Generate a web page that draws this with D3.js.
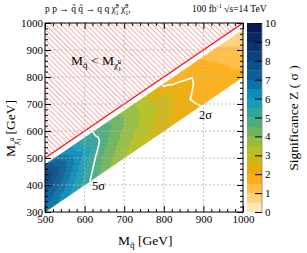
<!DOCTYPE html>
<html>
<head>
<meta charset="utf-8">
<script src="https://cdn.jsdelivr.net/npm/d3@7"></script>
<style>
body { margin: 0; background: #fff; }
text { font-family: "Liberation Serif", "DejaVu Serif", serif; fill: #000; }
</style>
</head>
<body>
<svg id="chart" width="307" height="253"></svg>
<script>
// squark mass grid (columns) and mass splitting M_sq - M_chi (rows)
var mqValues = [500, 550, 600, 650, 700, 750, 800, 850, 900, 950, 1000];
var dmValues = [25, 50, 75, 100, 125, 150, 175, 200];
// significance Z, one row per dm value
var zValues = [
  [7.0, 6.3, 5.3, 4.6, 3.8, 3.2, 1.9, 1.8, 1.4, 0.9, 0.4],
  [8.2, 6.8, 5.3, 4.8, 4.0, 3.3, 2.15, 1.8, 1.6, 1.1, 0.7],
  [8.6, 7.2, 5.9, 4.7, 4.0, 3.4, 2.7, 2.15, 1.8, 1.3, 0.9],
  [8.3, 7.1, 5.8, 4.6, 3.9, 3.4, 2.8, 2.2, 1.8, 1.5, 1.1],
  [7.8, 6.9, 5.6, 4.5, 3.8, 3.3, 2.8, 2.15, 1.8, 1.6, 1.3],
  [7.4, 6.7, 5.5, 4.4, 3.7, 3.2, 2.7, 2.1, 1.8, 1.6, 1.4],
  [7.1, 6.4, 5.4, 4.3, 3.6, 3.1, 2.7, 2.2, 1.85, 1.7, 1.5],
  [6.9, 6.3, 5.3, 4.2, 3.5, 3.0, 2.6, 2.3, 1.95, 1.7, 1.6]
];
var xTicks = [500, 600, 700, 800, 900, 1000];
var yTicks = [300, 400, 500, 600, 700, 800, 900, 1000];
var zTicks = [0, 1, 2, 3, 4, 5, 6, 7, 8, 9, 10];
var contourLevels = [5, 2];
var contourLabels = ["5σ", "2σ"];

var svg = d3.select("#chart");

var x = d3.scaleLinear().domain([500, 1000]).range([45, 243]);
var y = d3.scaleLinear().domain([300, 1000]).range([212, 23]);
var zScale = d3.scaleLinear().domain([0, 10]).range([212, 23]);

// palette
var stops = [0, 0.5, 1, 1.5, 2, 2.5, 3, 3.5, 4, 4.5, 5, 5.5, 6, 6.5, 7, 7.5, 8, 8.5, 9, 9.5, 10];
var stopColors = ["#fff0d4", "#ffdc9c", "#ffc860", "#ffb428", "#f8a800", "#dcae0c", "#c4bc18", "#a8c230",
  "#80b850", "#5cae6c", "#40a888", "#22a0a8", "#0e98c4", "#0a80ae", "#08689a", "#0a5890", "#0b4882",
  "#0c3a76", "#0d2c6a", "#0c2060", "#0a1650"];
var palette = d3.scaleLinear().domain(stops).range(stopColors);
function bandColor(z) {
  var k = Math.max(0, Math.min(19, Math.floor(z / 0.5)));
  return palette(k * 0.5 + 0.25);
}

function findIdx(arr, v) {
  var i = d3.bisectRight(arr, v) - 1;
  return Math.max(0, Math.min(arr.length - 2, i));
}
function zAt(mq, dm) {
  var i = findIdx(mqValues, mq), j = findIdx(dmValues, dm);
  var tx = (mq - mqValues[i]) / (mqValues[i + 1] - mqValues[i]);
  var ty = (dm - dmValues[j]) / (dmValues[j + 1] - dmValues[j]);
  tx = Math.max(0, Math.min(1, tx)); ty = Math.max(0, Math.min(1, ty));
  var a = zValues[j][i], b = zValues[j][i + 1], c = zValues[j + 1][i], d = zValues[j + 1][i + 1];
  return a * (1 - tx) * (1 - ty) + b * tx * (1 - ty) + c * (1 - tx) * ty + d * tx * ty;
}

var defs = svg.append("defs");
defs.append("clipPath").attr("id", "frame")
  .append("rect").attr("x", 45).attr("y", 23).attr("width", 198).attr("height", 189);
var pat = defs.append("pattern").attr("id", "hatch")
  .attr("patternUnits", "userSpaceOnUse").attr("width", 3.6).attr("height", 3.6)
  .attr("patternTransform", "rotate(-45)");
pat.append("line").attr("x1", 0).attr("y1", 0).attr("x2", 0).attr("y2", 3.6)
  .attr("stroke", "#f05050").attr("stroke-width", 0.9);

var plot = svg.append("g").attr("clip-path", "url(#frame)");

// grid
var grid = svg.append("g").attr("stroke", "#b0b0b0").attr("stroke-dasharray", "2,2").attr("stroke-width", 0.8);
xTicks.slice(1, -1).forEach(function(v) {
  grid.append("line").attr("x1", x(v)).attr("x2", x(v)).attr("y1", 23).attr("y2", 212);
});
yTicks.slice(1, -1).forEach(function(v) {
  grid.append("line").attr("x1", 45).attr("x2", 243).attr("y1", y(v)).attr("y2", y(v));
});

// significance cells
var step = 5, cells = [];
for (var mq = 500; mq < 1000; mq += step) {
  for (var dm = dmValues[0]; dm < dmValues[dmValues.length - 1]; dm += step) {
    cells.push({mq: mq, dm: dm, z: zAt(mq + step / 2, dm + step / 2)});
  }
}
plot.append("g").selectAll("path").data(cells).enter().append("path")
  .attr("d", function(c) {
    var pts = [[c.mq, c.mq - c.dm], [c.mq + step, c.mq + step - c.dm],
               [c.mq + step, c.mq - c.dm], [c.mq, c.mq - c.dm - step]];
    return "M" + pts.map(function(p) { return x(p[0]) + "," + y(p[1]); }).join("L") + "Z";
  })
  .attr("fill", function(c) { return bandColor(c.z); })
  .attr("stroke", function(c) { return bandColor(c.z); })
  .attr("stroke-width", 0.4);

// kinematically forbidden region
var forbidden = [[500, 500], [500, 1000], [1000, 1000]];
plot.append("path")
  .attr("d", "M" + forbidden.map(function(p) { return x(p[0]) + "," + y(p[1]); }).join("L") + "Z")
  .attr("fill", "url(#hatch)");
plot.append("line").attr("x1", x(500)).attr("y1", y(500)).attr("x2", x(1000)).attr("y2", y(1000))
  .attr("stroke", "#ff1010").attr("stroke-width", 1.3);

// contours: scan each dm row for the threshold crossing
var line = d3.line().x(function(p) { return x(p[0]); }).y(function(p) { return y(p[1]); });
contourLevels.forEach(function(t) {
  var pts = [];
  for (var dm = dmValues[0]; dm <= dmValues[dmValues.length - 1]; dm += 1) {
    for (var mq = 500; mq < 1000; mq += 1) {
      var z0 = zAt(mq, dm), z1 = zAt(mq + 1, dm);
      if (z0 >= t && z1 < t) {
        var m = mq + (z0 - t) / (z0 - z1);
        pts.push([m, m - dm]);
        break;
      }
    }
  }
  plot.append("path").attr("d", line(pts)).attr("fill", "none")
    .attr("stroke", "#fff").attr("stroke-width", 1.6);
});
svg.append("text").attr("x", 92).attr("y", 190).style("font-size", "12.5px").text(contourLabels[0]);
svg.append("text").attr("x", 199).attr("y", 119).style("font-size", "12.5px").text(contourLabels[1]);

// axes with inward ticks
function minor(lo, hi) { return d3.range(lo, hi + 0.1, 20).filter(function(v) { return v % 100 !== 0; }); }
function styleAxis(g) { g.select(".domain").remove(); g.selectAll("line").attr("stroke", "#000"); g.selectAll("text").style("font-size", "11px").style("font-family", "Liberation Serif, serif"); }

svg.append("g").attr("transform", "translate(0,212)")
  .call(d3.axisBottom(x).tickValues(xTicks).tickSize(-6).tickPadding(3).tickFormat(d3.format("d"))).call(styleAxis);
svg.append("g").attr("transform", "translate(0,212)")
  .call(d3.axisBottom(x).tickValues(minor(500, 1000)).tickSize(-3).tickFormat("")).call(styleAxis);
svg.append("g").attr("transform", "translate(0,23)")
  .call(d3.axisTop(x).tickValues(xTicks).tickSize(-6).tickFormat("")).call(styleAxis);
svg.append("g").attr("transform", "translate(0,23)")
  .call(d3.axisTop(x).tickValues(minor(500, 1000)).tickSize(-3).tickFormat("")).call(styleAxis);
svg.append("g").attr("transform", "translate(45,0)")
  .call(d3.axisLeft(y).tickValues(yTicks).tickSize(-6).tickPadding(2).tickFormat(d3.format("d"))).call(styleAxis);
svg.append("g").attr("transform", "translate(45,0)")
  .call(d3.axisLeft(y).tickValues(minor(300, 1000)).tickSize(-3).tickFormat("")).call(styleAxis);
svg.append("g").attr("transform", "translate(243,0)")
  .call(d3.axisRight(y).tickValues(yTicks).tickSize(-6).tickFormat("")).call(styleAxis);
svg.append("g").attr("transform", "translate(243,0)")
  .call(d3.axisRight(y).tickValues(minor(300, 1000)).tickSize(-3).tickFormat("")).call(styleAxis);

svg.append("rect").attr("x", 45).attr("y", 23).attr("width", 198).attr("height", 189)
  .attr("fill", "none").attr("stroke", "#000").attr("stroke-width", 1);

// colour bar
var levels = d3.range(0, 10, 0.5);
svg.append("g").selectAll("rect").data(levels).enter().append("rect")
  .attr("x", 247).attr("width", 15)
  .attr("y", function(v) { return zScale(v + 0.5); })
  .attr("height", function(v) { return zScale(v) - zScale(v + 0.5) + 0.3; })
  .attr("fill", function(v) { return bandColor(v + 0.25); });
svg.append("line").attr("x1", 262).attr("x2", 262).attr("y1", 23).attr("y2", 212)
  .attr("stroke", "#888").attr("stroke-width", 0.8);
svg.append("g").attr("transform", "translate(262,0)")
  .call(d3.axisRight(zScale).tickValues(zTicks).tickSize(-7).tickPadding(3).tickFormat(d3.format("d"))).call(styleAxis);

// titles
function addText(g, parts) {
  var t = g.append("text");
  parts.forEach(function(p) {
    var s = t.append("tspan").text(p[0]);
    if (p[1]) s.style("font-size", p[1] + "px");
    if (p[2]) s.attr("dy", p[2]);
    if (p[3]) s.attr("dx", p[3]);
  });
  return t;
}
var chi = [["χ̃", 9, 3], ["1", 6.5, 2.5], ["0", 6.5, -7, -3.3]];

addText(svg.append("g").attr("transform", "translate(45,12)").style("font-size", "9.5px"),
  [["p p → q̃ q̃ →  q q "], ["χ̃", 9.5], ["1", 6, 2.5], ["0", 6, -6.5, -3], ["  ", 9.5, 4], ["χ̃", 9.5], ["1", 6, 2.5], ["0", 6, -6.5, -3], [",", 9.5, 4]]);
addText(svg.append("g").attr("transform", "translate(192,12)").style("font-size", "9.5px"),
  [["100 fb"], ["-1", 6.5, -4], [" √s=14 TeV", 9.5, 4]]);

addText(svg.append("g").attr("transform", "translate(71,65)").style("font-size", "13.5px"),
  [["M"], ["q̃", 9, 3], [" < M", 13.5, -3], ["χ̃", 9, 3], ["1", 6.5, 2.5], ["0", 6.5, -7, -3.3]]);

addText(svg.append("g").attr("transform", "translate(118,245)").style("font-size", "13.5px"),
  [["M"], ["q̃", 9, 3], [" [GeV]", 13.5, -3]]);

addText(svg.append("g").attr("transform", "translate(15,157) rotate(-90)").style("font-size", "13.5px"),
  [["M"], ["χ̃", 9, 3], ["1", 6.5, 2.5], ["0", 6.5, -7, -3.3], [" [GeV]", 13.5, 1.5]]);

svg.append("text").attr("transform", "translate(298,118) rotate(-90)")
  .attr("text-anchor", "middle").style("font-size", "13.5px").text("Significance Z  ( σ )");
</script>
</body>
</html>
